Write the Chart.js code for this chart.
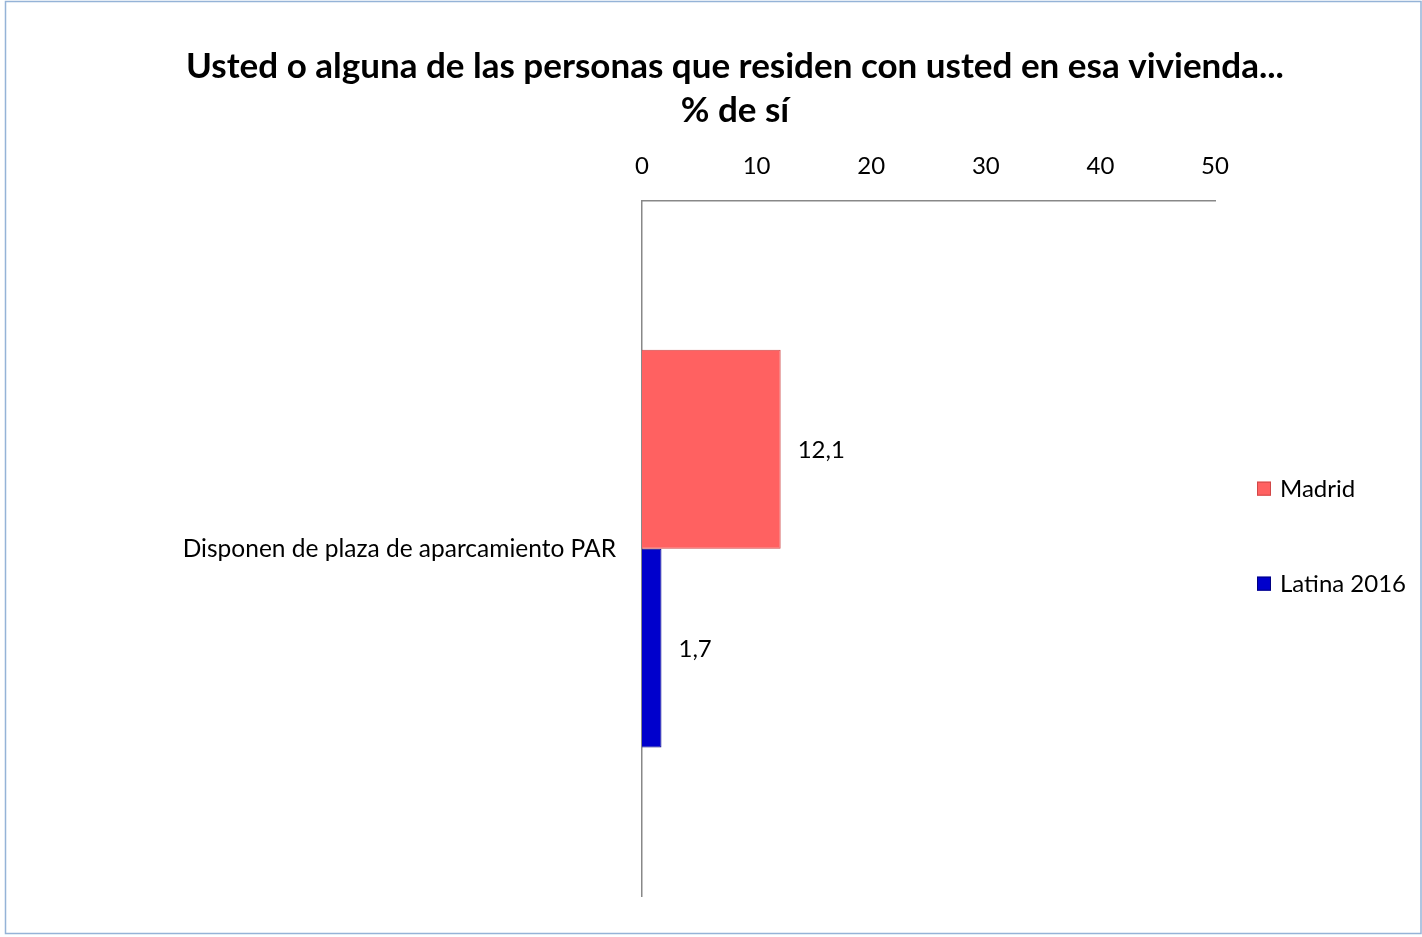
<!doctype html>
<html>
<head>
<meta charset="utf-8">
<title>% de sí</title>
<style>
  html, body { margin: 0; padding: 0; background: #fff; }
  #wrap { width: 1422px; height: 937px; }
</style>
</head>
<body>
<div id="wrap"><canvas id="chart"></canvas></div>
<script src="https://cdn.jsdelivr.net/npm/chart.js"></script>
<script>
let categories = ['Disponen de plaza de aparcamiento PAR']
let madrid = [12.1]
let latina = [1.7]
let seriesNames = ['Madrid', 'Latina 2016']
let titleLines = ['Usted o alguna de las personas que residen con usted en esa vivienda...', '% de sí']
let xMin = 0
let xMax = 50
let xStep = 10

let font = 'Lato'
let small = 24

// white page and the thin frame round the whole chart
let frame = {
    id: 'frame',
    beforeDraw(chart) {
        let ctx = chart.ctx
        ctx.save()
        ctx.fillStyle = '#fff'
        ctx.fillRect(0, 0, chart.width, chart.height)
        ctx.strokeStyle = '#95b3d7'
        ctx.lineWidth = 1.5
        ctx.strokeRect(5.5, 1.5, chart.width - 6.5, chart.height - 5)
        ctx.restore()
    }
}

// the title sits off-centre in the original, so it is drawn here
let headline = {
    id: 'headline',
    afterDraw(chart) {
        let ctx = chart.ctx
        let cx = (chart.width + 48) / 2
        ctx.save()
        ctx.font = `bold 35px ${font}`
        ctx.fillStyle = '#000'
        ctx.textAlign = 'center'
        ctx.textBaseline = 'middle'
        titleLines.forEach(function (line, i) {
            ctx.fillText(line, cx, 67 + i * 44)
        })
        ctx.restore()
    }
}

// value labels to the right of each bar, with a decimal comma
let valueLabels = {
    id: 'valueLabels',
    afterDatasetsDraw(chart) {
        let ctx = chart.ctx
        ctx.save()
        ctx.font = `${small}px ${font}`
        ctx.fillStyle = '#000'
        ctx.textBaseline = 'middle'
        ctx.textAlign = 'left'
        chart.data.datasets.forEach(function (ds, i) {
            let meta = chart.getDatasetMeta(i)
            meta.data.forEach(function (bar, j) {
                let text = ds.data[j].toFixed(1).replace('.', ',')
                ctx.fillText(text, bar.x + 17, bar.y + 1)
            })
        })
        ctx.restore()
    }
}

// legend on the right, items far apart as in the original
let sideLegend = {
    id: 'sideLegend',
    afterDraw(chart) {
        let ctx = chart.ctx
        let area = chart.chartArea
        let mid = (area.top + area.bottom) / 2
        let x = area.right + 42
        let ys = [mid - 60, mid + 35]
        ctx.save()
        ctx.font = `${small}px ${font}`
        ctx.textBaseline = 'middle'
        chart.data.datasets.forEach(function (ds, i) {
            ctx.fillStyle = ds.backgroundColor
            ctx.strokeStyle = ds.borderColor
            ctx.lineWidth = 1
            ctx.fillRect(x, ys[i] - 7, 14, 14)
            ctx.strokeRect(x + 0.5, ys[i] - 6.5, 13, 13)
            ctx.fillStyle = '#000'
            ctx.fillText(ds.label, x + 23, ys[i] + 1)
        })
        ctx.restore()
    }
}

new Chart(document.getElementById('chart'), {
    type: 'bar',
    data: {
        labels: categories,
        datasets: [
            {label: seriesNames[0], data: madrid, backgroundColor: '#ff6161', borderColor: '#d04848', borderWidth: 1},
            {label: seriesNames[1], data: latina, backgroundColor: '#0000cc', borderColor: '#000080', borderWidth: 1}
        ]
    },
    options: {
        indexAxis: 'y',
        responsive: true,
        maintainAspectRatio: false,
        animation: false,
        datasets: {bar: {barPercentage: 1, categoryPercentage: 0.572}},
        layout: {padding: {left: 10, right: 207, top: 132, bottom: 34}},
        scales: {
            x: {
                position: 'top',
                min: xMin,
                max: xMax,
                ticks: {stepSize: xStep, color: '#000', font: {family: font, size: small}, padding: 20},
                grid: {display: false, drawTicks: false},
                border: {display: true, color: '#888', width: 1.5},
                afterFit(scale) { scale.height = 69 }
            },
            y: {
                ticks: {color: '#000', font: {family: font, size: 24.5}, padding: 26},
                grid: {display: false, drawTicks: false},
                border: {display: true, color: '#888', width: 1.5},
                afterFit(scale) { scale.width = 632 }
            }
        },
        plugins: {
            legend: {display: false},
            tooltip: {enabled: false},
            title: {display: false}
        }
    },
    plugins: [frame, headline, valueLabels, sideLegend]
})
</script>
</body>
</html>
